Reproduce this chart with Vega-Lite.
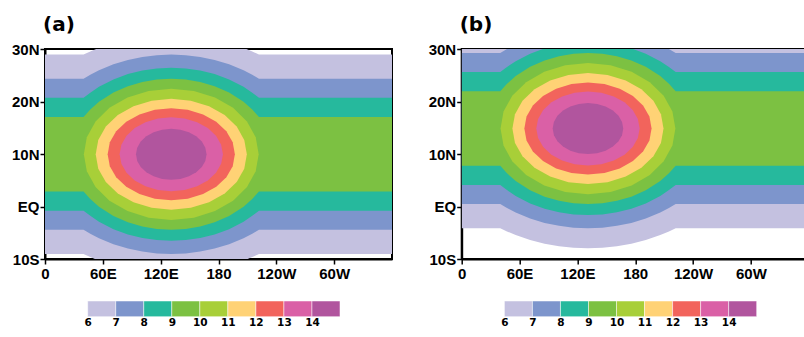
{
"$schema": "https://vega.github.io/schema/vega-lite/v6.json",
"background": "white",
"padding": {"left": 10, "top": 13, "right": 0, "bottom": 0},
"config": {
 "view": {"stroke": null},
 "font": "DejaVu Sans",
 "axis": {"labelColor": "black", "labelFont": "Liberation Sans", "labelFontWeight": "bold", "labelFlush": false, "labelOverlap": false, "domainColor": "black", "tickColor": "black", "grid": false}
},
"datasets": {
 "lg": [
  {"k":0,"v":6,"v2":7},{"k":1,"v":7,"v2":8},{"k":2,"v":8,"v2":9},{"k":3,"v":9,"v2":10},{"k":4,"v":10,"v2":11},{"k":5,"v":11,"v2":12},{"k":6,"v":12,"v2":13},{"k":7,"v":13,"v2":14},{"k":8,"v":14,"v2":15}
 ],
 "a": [
  {"k":0,"x":0,"lo":-9.05,"hi":28.95},{"k":0,"x":40,"lo":-9.05,"hi":28.95},{"k":0,"x":47,"lo":-9.64,"hi":29.54},{"k":0,"x":56,"lo":-10.33,"hi":30.23},{"k":0,"x":71,"lo":-11.27,"hi":31.17},{"k":0,"x":86,"lo":-11.98,"hi":31.88},{"k":0,"x":101,"lo":-12.47,"hi":32.37},{"k":0,"x":116,"lo":-12.75,"hi":32.65},{"k":0,"x":131,"lo":-12.85,"hi":32.75},{"k":0,"x":146,"lo":-12.75,"hi":32.65},{"k":0,"x":161,"lo":-12.47,"hi":32.37},{"k":0,"x":176,"lo":-11.98,"hi":31.88},{"k":0,"x":191,"lo":-11.27,"hi":31.17},{"k":0,"x":206,"lo":-10.33,"hi":30.23},{"k":0,"x":215,"lo":-9.64,"hi":29.54},{"k":0,"x":222,"lo":-9.05,"hi":28.95},{"k":0,"x":360,"lo":-9.05,"hi":28.95},
  {"k":1,"x":0,"lo":-4.43,"hi":24.33},{"k":1,"x":40,"lo":-4.43,"hi":24.33},{"k":1,"x":47,"lo":-5.19,"hi":25.09},{"k":1,"x":56,"lo":-6.05,"hi":25.95},{"k":1,"x":71,"lo":-7.19,"hi":27.09},{"k":1,"x":86,"lo":-8.02,"hi":27.92},{"k":1,"x":101,"lo":-8.59,"hi":28.49},{"k":1,"x":116,"lo":-8.93,"hi":28.83},{"k":1,"x":131,"lo":-9.04,"hi":28.94},{"k":1,"x":146,"lo":-8.93,"hi":28.83},{"k":1,"x":161,"lo":-8.59,"hi":28.49},{"k":1,"x":176,"lo":-8.02,"hi":27.92},{"k":1,"x":191,"lo":-7.19,"hi":27.09},{"k":1,"x":206,"lo":-6.05,"hi":25.95},{"k":1,"x":215,"lo":-5.19,"hi":25.09},{"k":1,"x":222,"lo":-4.43,"hi":24.33},{"k":1,"x":360,"lo":-4.43,"hi":24.33},
  {"k":2,"x":0,"lo":-0.82,"hi":20.72},{"k":2,"x":40,"lo":-0.82,"hi":20.72},{"k":2,"x":47,"lo":-1.78,"hi":21.68},{"k":2,"x":56,"lo":-2.89,"hi":22.79},{"k":2,"x":71,"lo":-4.31,"hi":24.21},{"k":2,"x":86,"lo":-5.32,"hi":25.22},{"k":2,"x":101,"lo":-6.0,"hi":25.9},{"k":2,"x":116,"lo":-6.4,"hi":26.3},{"k":2,"x":131,"lo":-6.53,"hi":26.43},{"k":2,"x":146,"lo":-6.4,"hi":26.3},{"k":2,"x":161,"lo":-6.0,"hi":25.9},{"k":2,"x":176,"lo":-5.32,"hi":25.22},{"k":2,"x":191,"lo":-4.31,"hi":24.21},{"k":2,"x":206,"lo":-2.89,"hi":22.79},{"k":2,"x":215,"lo":-1.78,"hi":21.68},{"k":2,"x":222,"lo":-0.82,"hi":20.72},{"k":2,"x":360,"lo":-0.82,"hi":20.72},
  {"k":3,"x":0,"lo":2.85,"hi":17.05},{"k":3,"x":40,"lo":2.85,"hi":17.05},{"k":3,"x":47,"lo":1.43,"hi":18.47},{"k":3,"x":56,"lo":-0.04,"hi":19.94},{"k":3,"x":71,"lo":-1.81,"hi":21.71},{"k":3,"x":86,"lo":-3.02,"hi":22.92},{"k":3,"x":101,"lo":-3.82,"hi":23.72},{"k":3,"x":116,"lo":-4.28,"hi":24.18},{"k":3,"x":131,"lo":-4.43,"hi":24.33},{"k":3,"x":146,"lo":-4.28,"hi":24.18},{"k":3,"x":161,"lo":-3.82,"hi":23.72},{"k":3,"x":176,"lo":-3.02,"hi":22.92},{"k":3,"x":191,"lo":-1.81,"hi":21.71},{"k":3,"x":206,"lo":-0.04,"hi":19.94},{"k":3,"x":215,"lo":1.43,"hi":18.47},{"k":3,"x":222,"lo":2.85,"hi":17.05},{"k":3,"x":360,"lo":2.85,"hi":17.05},
  {"k":4,"x":40.3,"lo":9.95,"hi":9.95},{"k":4,"x":43.39,"lo":6.71,"hi":13.19},{"k":4,"x":52.45,"lo":3.7,"hi":16.2},{"k":4,"x":66.87,"lo":1.11,"hi":18.79},{"k":4,"x":85.65,"lo":-0.88,"hi":20.78},{"k":4,"x":107.52,"lo":-2.12,"hi":22.02},{"k":4,"x":131,"lo":-2.55,"hi":22.45},{"k":4,"x":154.48,"lo":-2.12,"hi":22.02},{"k":4,"x":176.35,"lo":-0.88,"hi":20.78},{"k":4,"x":195.13,"lo":1.11,"hi":18.79},{"k":4,"x":209.55,"lo":3.7,"hi":16.2},{"k":4,"x":218.61,"lo":6.71,"hi":13.19},{"k":4,"x":221.7,"lo":9.95,"hi":9.95},
  {"k":5,"x":52.6,"lo":9.95,"hi":9.95},{"k":5,"x":55.27,"lo":7.21,"hi":12.69},{"k":5,"x":63.1,"lo":4.66,"hi":15.24},{"k":5,"x":75.56,"lo":2.48,"hi":17.42},{"k":5,"x":91.8,"lo":0.8,"hi":19.1},{"k":5,"x":110.71,"lo":-0.26,"hi":20.16},{"k":5,"x":131,"lo":-0.62,"hi":20.52},{"k":5,"x":151.29,"lo":-0.26,"hi":20.16},{"k":5,"x":170.2,"lo":0.8,"hi":19.1},{"k":5,"x":186.44,"lo":2.48,"hi":17.42},{"k":5,"x":198.9,"lo":4.66,"hi":15.24},{"k":5,"x":206.73,"lo":7.21,"hi":12.69},{"k":5,"x":209.4,"lo":9.95,"hi":9.95},
  {"k":6,"x":65,"lo":9.95,"hi":9.95},{"k":6,"x":67.25,"lo":7.68,"hi":12.22},{"k":6,"x":73.84,"lo":5.57,"hi":14.33},{"k":6,"x":84.33,"lo":3.76,"hi":16.14},{"k":6,"x":98,"lo":2.36,"hi":17.54},{"k":6,"x":113.92,"lo":1.49,"hi":18.41},{"k":6,"x":131,"lo":1.19,"hi":18.71},{"k":6,"x":148.08,"lo":1.49,"hi":18.41},{"k":6,"x":164,"lo":2.36,"hi":17.54},{"k":6,"x":177.67,"lo":3.76,"hi":16.14},{"k":6,"x":188.16,"lo":5.57,"hi":14.33},{"k":6,"x":194.75,"lo":7.68,"hi":12.22},{"k":6,"x":197,"lo":9.95,"hi":9.95},
  {"k":7,"x":77.4,"lo":9.95,"hi":9.95},{"k":7,"x":79.23,"lo":8.13,"hi":11.77},{"k":7,"x":84.58,"lo":6.42,"hi":13.48},{"k":7,"x":93.1,"lo":4.96,"hi":14.94},{"k":7,"x":104.2,"lo":3.84,"hi":16.06},{"k":7,"x":117.13,"lo":3.14,"hi":16.76},{"k":7,"x":131,"lo":2.9,"hi":17.0},{"k":7,"x":144.87,"lo":3.14,"hi":16.76},{"k":7,"x":157.8,"lo":3.84,"hi":16.06},{"k":7,"x":168.9,"lo":4.96,"hi":14.94},{"k":7,"x":177.42,"lo":6.42,"hi":13.48},{"k":7,"x":182.77,"lo":8.13,"hi":11.77},{"k":7,"x":184.6,"lo":9.95,"hi":9.95},
  {"k":8,"x":94.4,"lo":9.95,"hi":9.95},{"k":8,"x":95.65,"lo":8.69,"hi":11.21},{"k":8,"x":99.3,"lo":7.52,"hi":12.38},{"k":8,"x":105.12,"lo":6.51,"hi":13.39},{"k":8,"x":112.7,"lo":5.74,"hi":14.16},{"k":8,"x":121.53,"lo":5.26,"hi":14.64},{"k":8,"x":131,"lo":5.09,"hi":14.81},{"k":8,"x":140.47,"lo":5.26,"hi":14.64},{"k":8,"x":149.3,"lo":5.74,"hi":14.16},{"k":8,"x":156.88,"lo":6.51,"hi":13.39},{"k":8,"x":162.7,"lo":7.52,"hi":12.38},{"k":8,"x":166.35,"lo":8.69,"hi":11.21},{"k":8,"x":167.6,"lo":9.95,"hi":9.95}
 ],
 "b": [
  {"k":0,"x":0,"lo":-4.15,"hi":33.85},{"k":0,"x":40,"lo":-4.15,"hi":33.85},{"k":0,"x":47,"lo":-4.74,"hi":34.44},{"k":0,"x":56,"lo":-5.43,"hi":35.13},{"k":0,"x":71,"lo":-6.37,"hi":36.07},{"k":0,"x":86,"lo":-7.08,"hi":36.78},{"k":0,"x":101,"lo":-7.57,"hi":37.27},{"k":0,"x":116,"lo":-7.85,"hi":37.55},{"k":0,"x":131,"lo":-7.95,"hi":37.65},{"k":0,"x":146,"lo":-7.85,"hi":37.55},{"k":0,"x":161,"lo":-7.57,"hi":37.27},{"k":0,"x":176,"lo":-7.08,"hi":36.78},{"k":0,"x":191,"lo":-6.37,"hi":36.07},{"k":0,"x":206,"lo":-5.43,"hi":35.13},{"k":0,"x":215,"lo":-4.74,"hi":34.44},{"k":0,"x":222,"lo":-4.15,"hi":33.85},{"k":0,"x":360,"lo":-4.15,"hi":33.85},
  {"k":1,"x":0,"lo":0.47,"hi":29.23},{"k":1,"x":40,"lo":0.47,"hi":29.23},{"k":1,"x":47,"lo":-0.29,"hi":29.99},{"k":1,"x":56,"lo":-1.15,"hi":30.85},{"k":1,"x":71,"lo":-2.29,"hi":31.99},{"k":1,"x":86,"lo":-3.12,"hi":32.82},{"k":1,"x":101,"lo":-3.69,"hi":33.39},{"k":1,"x":116,"lo":-4.03,"hi":33.73},{"k":1,"x":131,"lo":-4.14,"hi":33.84},{"k":1,"x":146,"lo":-4.03,"hi":33.73},{"k":1,"x":161,"lo":-3.69,"hi":33.39},{"k":1,"x":176,"lo":-3.12,"hi":32.82},{"k":1,"x":191,"lo":-2.29,"hi":31.99},{"k":1,"x":206,"lo":-1.15,"hi":30.85},{"k":1,"x":215,"lo":-0.29,"hi":29.99},{"k":1,"x":222,"lo":0.47,"hi":29.23},{"k":1,"x":360,"lo":0.47,"hi":29.23},
  {"k":2,"x":0,"lo":4.08,"hi":25.62},{"k":2,"x":40,"lo":4.08,"hi":25.62},{"k":2,"x":47,"lo":3.12,"hi":26.58},{"k":2,"x":56,"lo":2.01,"hi":27.69},{"k":2,"x":71,"lo":0.59,"hi":29.11},{"k":2,"x":86,"lo":-0.42,"hi":30.12},{"k":2,"x":101,"lo":-1.1,"hi":30.8},{"k":2,"x":116,"lo":-1.5,"hi":31.2},{"k":2,"x":131,"lo":-1.63,"hi":31.33},{"k":2,"x":146,"lo":-1.5,"hi":31.2},{"k":2,"x":161,"lo":-1.1,"hi":30.8},{"k":2,"x":176,"lo":-0.42,"hi":30.12},{"k":2,"x":191,"lo":0.59,"hi":29.11},{"k":2,"x":206,"lo":2.01,"hi":27.69},{"k":2,"x":215,"lo":3.12,"hi":26.58},{"k":2,"x":222,"lo":4.08,"hi":25.62},{"k":2,"x":360,"lo":4.08,"hi":25.62},
  {"k":3,"x":0,"lo":7.75,"hi":21.95},{"k":3,"x":40,"lo":7.75,"hi":21.95},{"k":3,"x":47,"lo":6.33,"hi":23.37},{"k":3,"x":56,"lo":4.86,"hi":24.84},{"k":3,"x":71,"lo":3.09,"hi":26.61},{"k":3,"x":86,"lo":1.88,"hi":27.82},{"k":3,"x":101,"lo":1.08,"hi":28.62},{"k":3,"x":116,"lo":0.62,"hi":29.08},{"k":3,"x":131,"lo":0.47,"hi":29.23},{"k":3,"x":146,"lo":0.62,"hi":29.08},{"k":3,"x":161,"lo":1.08,"hi":28.62},{"k":3,"x":176,"lo":1.88,"hi":27.82},{"k":3,"x":191,"lo":3.09,"hi":26.61},{"k":3,"x":206,"lo":4.86,"hi":24.84},{"k":3,"x":215,"lo":6.33,"hi":23.37},{"k":3,"x":222,"lo":7.75,"hi":21.95},{"k":3,"x":360,"lo":7.75,"hi":21.95},
  {"k":4,"x":40.3,"lo":14.85,"hi":14.85},{"k":4,"x":43.39,"lo":11.61,"hi":18.09},{"k":4,"x":52.45,"lo":8.6,"hi":21.1},{"k":4,"x":66.87,"lo":6.01,"hi":23.69},{"k":4,"x":85.65,"lo":4.02,"hi":25.68},{"k":4,"x":107.52,"lo":2.78,"hi":26.92},{"k":4,"x":131,"lo":2.35,"hi":27.35},{"k":4,"x":154.48,"lo":2.78,"hi":26.92},{"k":4,"x":176.35,"lo":4.02,"hi":25.68},{"k":4,"x":195.13,"lo":6.01,"hi":23.69},{"k":4,"x":209.55,"lo":8.6,"hi":21.1},{"k":4,"x":218.61,"lo":11.61,"hi":18.09},{"k":4,"x":221.7,"lo":14.85,"hi":14.85},
  {"k":5,"x":52.6,"lo":14.85,"hi":14.85},{"k":5,"x":55.27,"lo":12.11,"hi":17.59},{"k":5,"x":63.1,"lo":9.56,"hi":20.14},{"k":5,"x":75.56,"lo":7.38,"hi":22.32},{"k":5,"x":91.8,"lo":5.7,"hi":24.0},{"k":5,"x":110.71,"lo":4.64,"hi":25.06},{"k":5,"x":131,"lo":4.28,"hi":25.42},{"k":5,"x":151.29,"lo":4.64,"hi":25.06},{"k":5,"x":170.2,"lo":5.7,"hi":24.0},{"k":5,"x":186.44,"lo":7.38,"hi":22.32},{"k":5,"x":198.9,"lo":9.56,"hi":20.14},{"k":5,"x":206.73,"lo":12.11,"hi":17.59},{"k":5,"x":209.4,"lo":14.85,"hi":14.85},
  {"k":6,"x":65,"lo":14.85,"hi":14.85},{"k":6,"x":67.25,"lo":12.58,"hi":17.12},{"k":6,"x":73.84,"lo":10.47,"hi":19.23},{"k":6,"x":84.33,"lo":8.66,"hi":21.04},{"k":6,"x":98,"lo":7.26,"hi":22.44},{"k":6,"x":113.92,"lo":6.39,"hi":23.31},{"k":6,"x":131,"lo":6.09,"hi":23.61},{"k":6,"x":148.08,"lo":6.39,"hi":23.31},{"k":6,"x":164,"lo":7.26,"hi":22.44},{"k":6,"x":177.67,"lo":8.66,"hi":21.04},{"k":6,"x":188.16,"lo":10.47,"hi":19.23},{"k":6,"x":194.75,"lo":12.58,"hi":17.12},{"k":6,"x":197,"lo":14.85,"hi":14.85},
  {"k":7,"x":77.4,"lo":14.85,"hi":14.85},{"k":7,"x":79.23,"lo":13.03,"hi":16.67},{"k":7,"x":84.58,"lo":11.32,"hi":18.38},{"k":7,"x":93.1,"lo":9.86,"hi":19.84},{"k":7,"x":104.2,"lo":8.74,"hi":20.96},{"k":7,"x":117.13,"lo":8.04,"hi":21.66},{"k":7,"x":131,"lo":7.8,"hi":21.9},{"k":7,"x":144.87,"lo":8.04,"hi":21.66},{"k":7,"x":157.8,"lo":8.74,"hi":20.96},{"k":7,"x":168.9,"lo":9.86,"hi":19.84},{"k":7,"x":177.42,"lo":11.32,"hi":18.38},{"k":7,"x":182.77,"lo":13.03,"hi":16.67},{"k":7,"x":184.6,"lo":14.85,"hi":14.85},
  {"k":8,"x":94.4,"lo":14.85,"hi":14.85},{"k":8,"x":95.65,"lo":13.59,"hi":16.11},{"k":8,"x":99.3,"lo":12.42,"hi":17.28},{"k":8,"x":105.12,"lo":11.41,"hi":18.29},{"k":8,"x":112.7,"lo":10.64,"hi":19.06},{"k":8,"x":121.53,"lo":10.16,"hi":19.54},{"k":8,"x":131,"lo":9.99,"hi":19.71},{"k":8,"x":140.47,"lo":10.16,"hi":19.54},{"k":8,"x":149.3,"lo":10.64,"hi":19.06},{"k":8,"x":156.88,"lo":11.41,"hi":18.29},{"k":8,"x":162.7,"lo":12.42,"hi":17.28},{"k":8,"x":166.35,"lo":13.59,"hi":16.11},{"k":8,"x":167.6,"lo":14.85,"hi":14.85}
 ]
},
"columns": 2,
"bounds": "flush",
"spacing": {"row": 42, "column": 69.7},
"resolve": {"scale": {"x": "independent", "y": "independent"}},
"concat": [
 {
  "width": 347, "height": 210,
  "title": {"text": "(a)", "anchor": "start", "frame": "group", "font": "DejaVu Sans", "fontSize": 20, "fontWeight": "bold", "color": "black", "offset": 7.3, "dx": -2},
  "view": {"stroke": "black", "strokeWidth": 2},
  "data": {"name": "a"},
  "mark": {"type": "area", "orient": "vertical", "clip": true},
  "encoding": {
   "x": {"field": "x", "type": "quantitative", "scale": {"domain": [0, 360], "nice": false, "zero": false},
     "axis": {"values": [0, 60, 120, 180, 240, 300], "labelExpr": "datum.value == 0 ? '0' : datum.value < 180 ? datum.value + 'E' : datum.value == 180 ? '180' : (360 - datum.value) + 'W'", "title": null, "labelFontSize": 15, "tickSize": 5, "tickWidth": 1.5, "domainWidth": 2, "labelPadding": 2}},
   "y": {"field": "lo", "type": "quantitative", "stack": null, "scale": {"domain": [-10, 30], "nice": false, "zero": false},
     "axis": {"values": [-10, 0, 10, 20, 30], "labelExpr": "datum.value == 0 ? 'EQ' : datum.value > 0 ? datum.value + 'N' : (-datum.value) + 'S'", "title": null, "labelFontSize": 15, "tickSize": 5, "tickWidth": 1.5, "domainWidth": 2, "labelPadding": 1}},
   "y2": {"field": "hi"},
   "color": {"field": "k", "type": "ordinal", "legend": null,
     "scale": {"domain": [0, 1, 2, 3, 4, 5, 6, 7, 8], "range": ["#c4c1e0", "#7d95cc", "#26b99d", "#7cc142", "#a8cf38", "#ffd275", "#f2645c", "#da60a6", "#b1559e"]}}
  }
 },
 {
  "width": 347, "height": 210,
  "title": {"text": "(b)", "anchor": "start", "frame": "group", "font": "DejaVu Sans", "fontSize": 20, "fontWeight": "bold", "color": "black", "offset": 7.3, "dx": -2},
  "view": {"stroke": "black", "strokeWidth": 2},
  "data": {"name": "b"},
  "mark": {"type": "area", "orient": "vertical", "clip": true},
  "encoding": {
   "x": {"field": "x", "type": "quantitative", "scale": {"domain": [0, 360], "nice": false, "zero": false},
     "axis": {"values": [0, 60, 120, 180, 240, 300], "labelExpr": "datum.value == 0 ? '0' : datum.value < 180 ? datum.value + 'E' : datum.value == 180 ? '180' : (360 - datum.value) + 'W'", "title": null, "labelFontSize": 15, "tickSize": 5, "tickWidth": 1.5, "domainWidth": 2, "labelPadding": 2}},
   "y": {"field": "lo", "type": "quantitative", "stack": null, "scale": {"domain": [-10, 30], "nice": false, "zero": false},
     "axis": {"values": [-10, 0, 10, 20, 30], "labelExpr": "datum.value == 0 ? 'EQ' : datum.value > 0 ? datum.value + 'N' : (-datum.value) + 'S'", "title": null, "labelFontSize": 15, "tickSize": 5, "tickWidth": 1.5, "domainWidth": 2, "labelPadding": 1}},
   "y2": {"field": "hi"},
   "color": {"field": "k", "type": "ordinal", "legend": null,
     "scale": {"domain": [0, 1, 2, 3, 4, 5, 6, 7, 8], "range": ["#c4c1e0", "#7d95cc", "#26b99d", "#7cc142", "#a8cf38", "#ffd275", "#f2645c", "#da60a6", "#b1559e"]}}
  }
 },
 {
  "width": 347, "height": 15.7,
  "data": {"name": "lg"},
  "mark": {"type": "rect", "stroke": "white", "strokeWidth": 0.5},
  "encoding": {
   "x": {"field": "v", "type": "quantitative", "scale": {"domain": [4.477, 16.856], "nice": false, "zero": false},
     "axis": {"values": [6, 7, 8, 9, 10, 11, 12, 13, 14], "domain": false, "ticks": false, "title": null, "labelFont": "DejaVu Sans", "labelFontSize": 10.5, "labelPadding": 1}},
   "x2": {"field": "v2"},
   "color": {"field": "k", "type": "ordinal", "legend": null,
     "scale": {"domain": [0, 1, 2, 3, 4, 5, 6, 7, 8], "range": ["#c4c1e0", "#7d95cc", "#26b99d", "#7cc142", "#a8cf38", "#ffd275", "#f2645c", "#da60a6", "#b1559e"]}}
  }
 },
 {
  "width": 347, "height": 15.7,
  "data": {"name": "lg"},
  "mark": {"type": "rect", "stroke": "white", "strokeWidth": 0.5},
  "encoding": {
   "x": {"field": "v", "type": "quantitative", "scale": {"domain": [4.477, 16.856], "nice": false, "zero": false},
     "axis": {"values": [6, 7, 8, 9, 10, 11, 12, 13, 14], "domain": false, "ticks": false, "title": null, "labelFont": "DejaVu Sans", "labelFontSize": 10.5, "labelPadding": 1}},
   "x2": {"field": "v2"},
   "color": {"field": "k", "type": "ordinal", "legend": null,
     "scale": {"domain": [0, 1, 2, 3, 4, 5, 6, 7, 8], "range": ["#c4c1e0", "#7d95cc", "#26b99d", "#7cc142", "#a8cf38", "#ffd275", "#f2645c", "#da60a6", "#b1559e"]}}
  }
 }
]
}
